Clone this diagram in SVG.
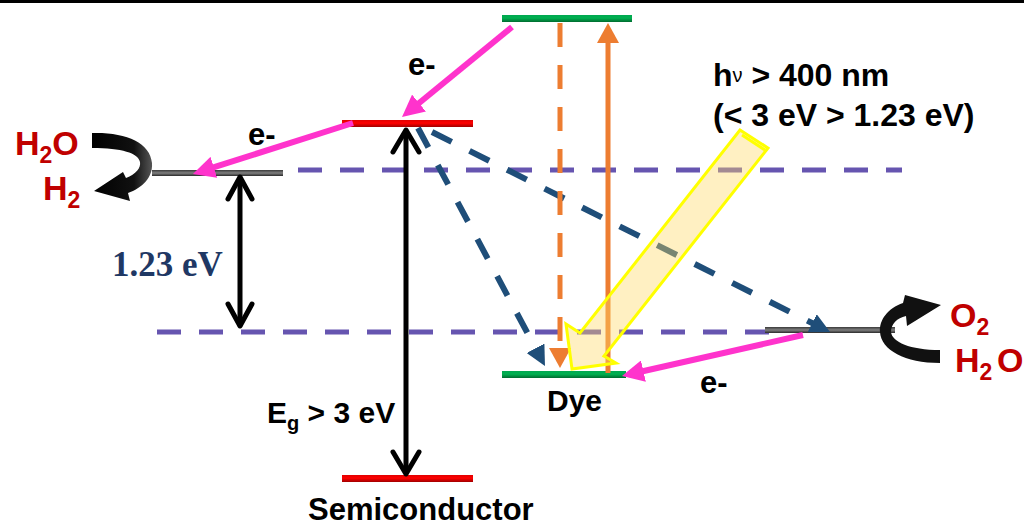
<svg xmlns="http://www.w3.org/2000/svg" width="1024" height="526" viewBox="0 0 1024 526">
<defs>
<linearGradient id="gRed" x1="0" y1="0" x2="0" y2="1"><stop offset="0" stop-color="#E00000"/><stop offset="0.45" stop-color="#FF0000"/><stop offset="1" stop-color="#A00000"/></linearGradient>
<linearGradient id="gGreen" x1="0" y1="0" x2="0" y2="1"><stop offset="0" stop-color="#00A850"/><stop offset="0.45" stop-color="#00B050"/><stop offset="1" stop-color="#006B30"/></linearGradient>
<linearGradient id="gGray" x1="0" y1="0" x2="0" y2="1"><stop offset="0" stop-color="#3A3A3A"/><stop offset="0.5" stop-color="#808080"/><stop offset="1" stop-color="#2A2A2A"/></linearGradient>
<linearGradient id="gCurve" x1="0" y1="0" x2="1" y2="0"><stop offset="0" stop-color="#000"/><stop offset="0.7" stop-color="#111"/><stop offset="1" stop-color="#555"/></linearGradient>
<marker id="mPink" markerUnits="userSpaceOnUse" markerWidth="22" markerHeight="22" refX="3" refY="11" orient="auto"><path d="M0,0 L22,11 L0,22 Z" fill="#FF33CC"/></marker>
<marker id="mBlue" markerUnits="userSpaceOnUse" markerWidth="20" markerHeight="20" refX="2" refY="10" orient="auto"><path d="M0,0 L20,10 L0,20 Z" fill="#1F4E79"/></marker>
<marker id="mOrange" markerUnits="userSpaceOnUse" markerWidth="20" markerHeight="22" refX="2" refY="11" orient="auto"><path d="M0,0 L20,11 L0,22 Z" fill="#ED7D31"/></marker>
</defs>
<style>
.t{font-family:"Liberation Sans",Arial,sans-serif;font-weight:bold;fill:#000}
.red{fill:#C00000}
.ser{font-family:"Liberation Serif","Times New Roman",serif;font-weight:bold;fill:#1F3864}
.pur{stroke:#6655B0;stroke-width:5;stroke-dasharray:24 18;fill:none}
.blu{stroke:#1F4E79;stroke-width:6;stroke-dasharray:22 20;fill:none;marker-end:url(#mBlue)}
.pink{stroke:#FF33CC;stroke-width:6;fill:none;marker-end:url(#mPink)}
.blk{stroke:#000;stroke-width:5;fill:none;stroke-linecap:round;stroke-linejoin:round}
.org{stroke:#ED7D31;stroke-width:5;fill:none;marker-end:url(#mOrange)}
.dash{stroke-dasharray:24 18}
</style>
<rect width="1024" height="526" fill="#fff"/>
<rect x="0" y="0" width="1024" height="3" fill="#000"/>

<g id="reference-levels">
<line class="pur" x1="298" y1="170" x2="902" y2="170"/>
<line class="pur" x1="157" y1="332" x2="775" y2="332"/>
</g>

<g id="h2-level"><rect x="152" y="170" width="131" height="6" fill="url(#gGray)"/></g>
<g id="o2-level"><rect x="765" y="327" width="130" height="6" fill="url(#gGray)"/></g>
<g id="semiconductor-cb"><rect x="342" y="120" width="131" height="7" fill="url(#gRed)"/></g>
<g id="semiconductor-vb"><rect x="342" y="475" width="131" height="7" fill="url(#gRed)"/></g>
<g id="dye-lumo"><rect x="502" y="15" width="130" height="7" fill="url(#gGreen)"/></g>
<g id="dye-homo"><rect x="502" y="371" width="124" height="7" fill="url(#gGreen)"/></g>

<g id="connectors">
<line class="blk" x1="406" y1="131" x2="406" y2="472"/>
<polyline class="blk" points="393,152 406,130 419,152"/>
<polyline class="blk" points="393,452 406,474 419,452"/>
<line class="blk" x1="240" y1="178" x2="240" y2="325"/>
<polyline class="blk" points="228,199 240,177 252,199"/>
<polyline class="blk" points="228,304 240,326 252,304"/>
<line class="blu" x1="418" y1="128" x2="536.5" y2="350"/>
<line class="blu" x1="432" y1="132" x2="814" y2="324"/>
<line class="org dash" x1="560" y1="23" x2="560" y2="350"/>
<line class="org" x1="608" y1="373" x2="608" y2="41"/>
<line class="pink" x1="512" y1="27" x2="416.7" y2="105"/>
<line class="pink" x1="353" y1="123" x2="211" y2="168.2"/>
<line class="pink" x1="803" y1="335" x2="640.5" y2="371.8"/>
<g id="light">
<polygon points="740,130 768,148 604,356 616,363 572,369 566,324 580,333" fill="#FFD966" fill-opacity="0.4" stroke="#FFFF00" stroke-width="3" stroke-linejoin="miter"/>
<line x1="742" y1="135" x2="765" y2="150" stroke="#FFFF00" stroke-width="3"/>
</g>
<path d="M92,133 C125,132 150,142 152,163 C153,178 142,188 128,193 L130,201 L94,191 L123,172 L126,178 C136,174 141,168 140,162 C138,153 122,148 92,148 Z" fill="url(#gCurve)"/>
<path d="M940,350 C910,350 892,342 891,332 C891,324 897,318 906,316 L907,326 L941,305 L905,295 L903,303 C888,308 879,320 880,332 C881,350 905,363 940,363 Z" fill="#111"/>
</g>

<g id="labels">
<text class="t red" x="15" y="155" font-size="34">H<tspan font-size="23" dy="8">2</tspan><tspan dy="-8">O</tspan></text>
<text class="t red" x="43" y="200" font-size="34">H<tspan font-size="23" dy="8">2</tspan></text>
<text class="t red" x="950" y="327" font-size="34">O<tspan font-size="23" dy="8">2</tspan></text>
<text class="t red" x="955" y="372" font-size="34">H<tspan font-size="23" dy="8">2</tspan><tspan x="997" dy="-8">O</tspan></text>
<text class="t" x="408" y="75" font-size="31">e-</text>
<text class="t" x="248" y="145" font-size="31">e-</text>
<text class="t" x="700" y="393" font-size="31">e-</text>
<text class="ser" x="112" y="276" font-size="35">1.23 eV</text>
<text class="t" x="267" y="423" font-size="30">E<tspan font-size="20" dy="7">g</tspan><tspan dy="-7"> &gt; 3 eV</tspan></text>
<text class="t" x="547" y="411" font-size="30">Dye</text>
<text class="t" x="308" y="520" font-size="31">Semiconductor</text>
<text class="t" x="713" y="86" font-size="32">h<tspan font-size="20" font-weight="normal" dy="-4">ν</tspan><tspan dy="4"> &gt; 400 nm</tspan></text>
<text class="t" x="713" y="126" font-size="32">(&lt; 3 eV &gt; 1.23 eV)</text>
</g>
</svg>
